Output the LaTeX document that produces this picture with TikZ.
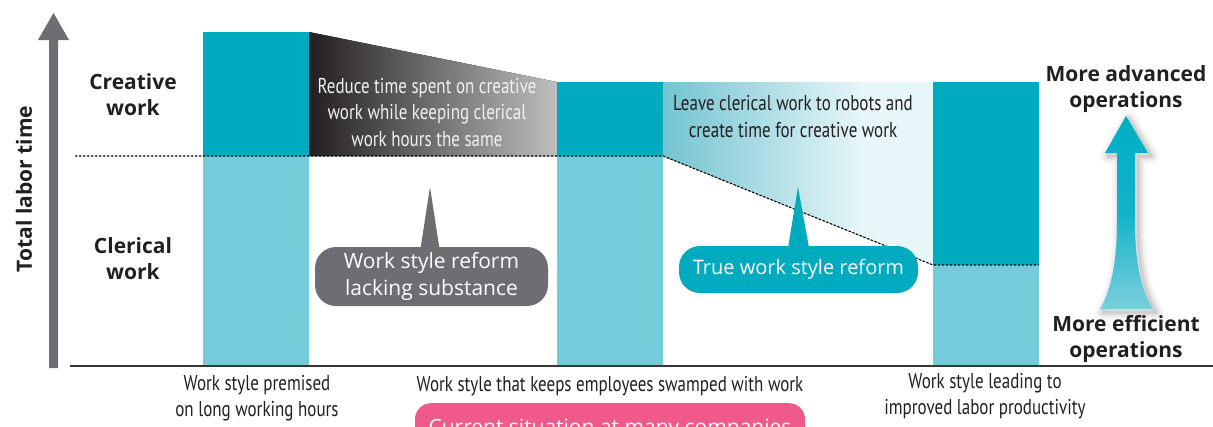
\documentclass[tikz,border=0pt]{standalone}
\usepackage{fontspec}
\setmainfont{Open Sans}
\newfontfamily\condf[FakeStretch=0.79]{PT Sans}
\usetikzlibrary{calc}
\definecolor{tealdark}{HTML}{00AABF}
\definecolor{teallight}{HTML}{74CCDB}
\definecolor{axisgray}{HTML}{6D6E71}
\definecolor{txt}{HTML}{231F20}
\definecolor{pinkc}{HTML}{EF5A8B}
\definecolor{fadeA}{HTML}{72C4D0}
\definecolor{fadeB}{HTML}{E7F6F9}
\definecolor{grayA}{HTML}{231F20}
\definecolor{grayB}{HTML}{BEBEBE}
\definecolor{arrA}{HTML}{00AEC5}
\definecolor{arrB}{HTML}{7BCFDC}
\pgfdeclarehorizontalshading{tealfade}{100bp}{color(0bp)=(fadeA); color(25bp)=(fadeA); color(62bp)=(fadeB); color(100bp)=(fadeB)}
\tikzset{
  lbl/.style={inner sep=0pt, align=center, text=txt, font=\bfseries\fontsize{21}{26}\selectfont},
  cond/.style={inner sep=0pt, align=center, text=txt, font=\condf\fontsize{21.5}{26.5}\selectfont},
  callout/.style={inner sep=0pt, align=center, text=white, rounded corners=21pt, font=\fontsize{21}{27}\selectfont},
  dotline/.style={line width=1.1pt, dash pattern=on 2.4pt off 1.6pt, black},
  arrowshape/.style={insert path={(1126,116) -- (1148,153) -- (1135,153) -- (1135,222) .. controls (1135,262) and (1141,290) .. (1153,309) -- (1100,309) .. controls (1111,290) and (1117,262) .. (1117,222) -- (1117,153) -- (1105,153) -- cycle}}
}
\begin{document}
\begin{tikzpicture}[x=1pt,y=-1pt]
\useasboundingbox (0,0) rectangle (1213,426);
\clip (0,0) rectangle (1213,426);
% gradient regions
\fill[left color=grayA, right color=grayB] (309,32) -- (557,82) -- (557,156) -- (309,156) -- cycle;
\fill[shading=tealfade] (663,82) -- (933,82) -- (933,265) -- (663,156) -- cycle;
% bars
\fill[tealdark] (203,32) rectangle (309,156);
\fill[teallight] (203,156) rectangle (309,366);
\fill[tealdark] (557,82) rectangle (663,156);
\fill[teallight] (557,156) rectangle (663,366);
\fill[tealdark] (933,82) rectangle (1039,265);
\fill[teallight] (933,265) rectangle (1039,366);
% dotted boundary
\coordinate (d0) at (75,156);
\coordinate (d1) at (663,156);
\coordinate (d2) at (933,265);
\coordinate (d3) at (1039,265);
\draw[dotline] (d0) -- (d1) -- (d2) -- (d3);
% axis arrow
\fill[axisgray] (53.5,13) -- (69,40) -- (58,40) -- (58,368) -- (49,368) -- (49,40) -- (38,40) -- cycle;
\coordinate (b0) at (70,366);
\coordinate (b1) at (1213,366);
\draw[line width=1.5pt, color=txt!90] (b0) -- (b1);
% left labels
\node[lbl, rotate=90] (total) at (24,189) {Total labor time};
\node[lbl] (creative) at (133,95) {Creative\\work};
\node[lbl] (clerical) at (133,258.5) {Clerical\\work};
% region texts
\node[cond, text=white!94!black] (reduce) at (427,112.5) {Reduce time spent on creative\\work while keeping clerical\\work hours the same};
\node[cond] (leave) at (793,116.5) {Leave clerical work to robots and\\create time for creative work};
% callouts
\node[callout, fill=axisgray, minimum width=233pt, minimum height=59pt] (lack) at (431.5,276.5) {Work style reform\\lacking substance};
\coordinate (lacktip) at (430,187);
\fill[axisgray] ($(lack.north)+(-11,2)$) -- (lacktip) -- ($(lack.north)+(8,2)$) -- cycle;
\node[callout, fill=tealdark, minimum width=239pt, minimum height=47pt, font=\fontsize{20}{24}\selectfont] (truer) at (798.5,269.5) {True work style reform};
\coordinate (truetip) at (798,187);
\fill[tealdark] ($(truer.north)+(-10.5,2)$) -- (truetip) -- ($(truer.north)+(10.5,2)$) -- cycle;
% right arrow with soft shadow
\foreach \w/\o in {16/0.03,11/0.04,7/0.06,3/0.08} {
  \draw[black, opacity=\o, line width=\w pt, line join=round, shift={(3,3)}] [arrowshape];
}
\shade[top color=arrA, bottom color=arrB, middle color=arrA!85!arrB] [arrowshape];
\node[lbl] (adv) at (1126,89) {More advanced\\operations};
\node[lbl] (eff) at (1126,339) {More efficient\\operations};
% bottom labels
\node[cond] (long) at (257,398) {Work style premised\\on long working hours};
\node[cond] (swamp) at (610,386) {Work style that keeps employees swamped with work};
\node[cond] (improved) at (985,396) {Work style leading to\\improved labor productivity};
% pink box
\node[fill=pinkc, rounded corners=16pt, minimum width=390pt, minimum height=50pt, inner sep=0pt, anchor=north] (current) at (610,403) {};
\node[text=white, inner sep=0pt, anchor=base, font=\fontsize{21}{25}\selectfont] (currenttxt) at (610,434) {Current situation at many companies};
\end{tikzpicture}
\end{document}
